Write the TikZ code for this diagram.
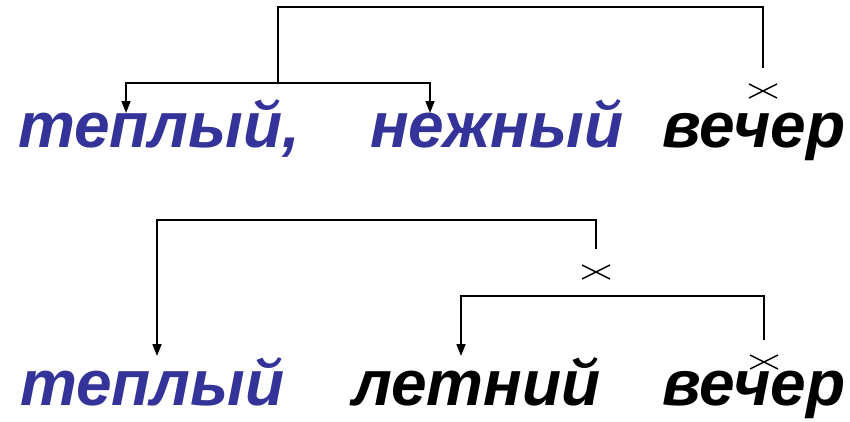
\documentclass[tikz,border=0pt]{standalone}
\usepackage{fontspec}
\setmainfont{Liberation Sans}
\usetikzlibrary{arrows.meta,calc}
\definecolor{wblue}{RGB}{51,51,153}
\begin{document}
\begin{tikzpicture}[x=1pt,y=-1pt,
  word/.style={anchor=base west,inner sep=0pt,font=\fontsize{64}{64}\selectfont\bfseries\itshape},
  link/.style={line width=1.7pt},
  arr/.style={link,-{Triangle[width=9pt,length=12pt]}},
  crossmark/.style={line width=1.4pt}]
\useasboundingbox (0,0) rectangle (850,421);
% top row
\node[word,text=wblue] (t1) at (18,147) {теплый,};
\node[word,text=wblue] (n1) at (370,147) {нежный};
\node[word] (v1) at (662,147) {вечер};
\coordinate (a1) at (126,113);
\coordinate (b1) at (430,113);
\coordinate (j1) at (278,83);
\coordinate (r1) at (763,68);
\draw[link] (j1) -- (278,7) -| (r1);
\draw[arr] (j1) -| (a1);
\draw[arr] (j1) -| (b1);
\coordinate (c1) at (763,91);
\draw[crossmark] ($(c1)+(-14,-7)$) -- ($(c1)+(14,7)$);
\draw[crossmark] ($(c1)+(-14,7)$) -- ($(c1)+(14,-7)$);
% bottom row
\node[word,text=wblue] (t2) at (20,405) {теплый};
\node[word] (l2) at (352,405) {летний};
\node[word] (v2) at (662,405) {вечер};
\coordinate (a2) at (157,356);
\coordinate (r2) at (596,249);
\draw[arr] (r2) |- (157,220) -- (a2);
\coordinate (c2) at (596,272);
\draw[crossmark] ($(c2)+(-14,-7)$) -- ($(c2)+(14,7)$);
\draw[crossmark] ($(c2)+(-14,7)$) -- ($(c2)+(14,-7)$);
\coordinate (b2) at (461,356);
\coordinate (r3) at (764,340);
\draw[arr] (r3) |- (461,296) -- (b2);
\coordinate (c3) at (764,362);
\draw[crossmark] ($(c3)+(-14,-7)$) -- ($(c3)+(14,7)$);
\draw[crossmark] ($(c3)+(-14,7)$) -- ($(c3)+(14,-7)$);
\end{tikzpicture}
\end{document}
